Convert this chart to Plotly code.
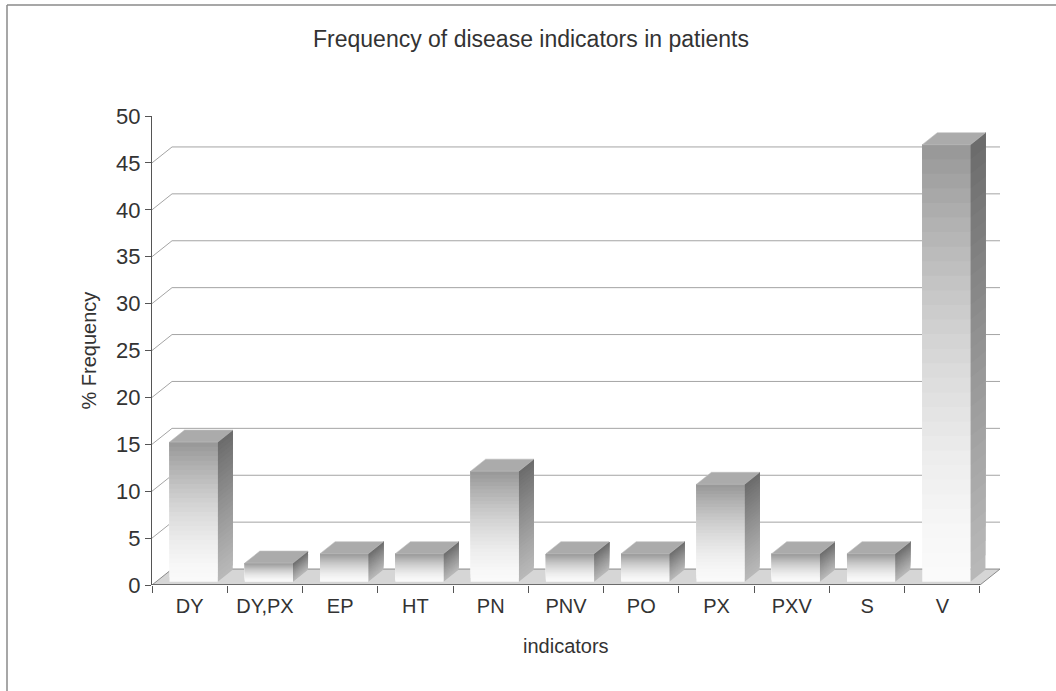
import numpy as np
import plotly.graph_objects as go

# ---------------- data ----------------
categories = ["DY", "DY,PX", "EP", "HT", "PN", "PNV", "PO", "PX", "PXV", "S", "V"]
values = [14.9, 2.0, 3.0, 3.0, 11.8, 3.0, 3.0, 10.4, 3.0, 3.0, 46.6]
y_ticks = [0, 5, 10, 15, 20, 25, 30, 35, 40, 45, 50]
title_text = "Frequency of disease indicators in patients"
x_title = "indicators"
y_title = "% Frequency"

# ---------------- 3-D look geometry (styling) ----------------
DEPTH_X, DEPTH_Y = 0.266, 1.7      # back-wall offset in axis units
FRONT, BACK = 0.2, 0.95            # bar depth span (fraction of depth)
BAR_W = 0.64
N = 30
FONT = "Liberation Sans, Arial, sans-serif"
TXT = "#333333"

FX0, FY0 = FRONT * DEPTH_X, FRONT * DEPTH_Y
DDX, DDY = (BACK - FRONT) * DEPTH_X, (BACK - FRONT) * DEPTH_Y
n = len(categories)
xmin, xmax = -0.5, n - 0.5

def grey(g):
    g = int(round(g))
    return f"rgb({g},{g},{g})"

fig = go.Figure()

# floor
fig.add_trace(go.Scatter(
    x=[xmin, xmax, xmax + DEPTH_X, xmin + DEPTH_X, xmin],
    y=[0, 0, DEPTH_Y, DEPTH_Y, 0],
    fill="toself", fillcolor="#d6d6d6", mode="lines",
    line=dict(color="#8a8a8a", width=1), hoverinfo="skip", showlegend=False))

# back wall gridlines + left wall diagonals
gx, gy = [], []
for t in y_ticks[1:-1]:
    gx += [xmin, xmin + DEPTH_X, xmax + DEPTH_X, None]
    gy += [t, t + DEPTH_Y, t + DEPTH_Y, None]
fig.add_trace(go.Scatter(x=gx, y=gy, mode="lines",
                         line=dict(color="#a4a4a4", width=1),
                         hoverinfo="skip", showlegend=False))

# front edge of floor (x axis line)
fig.add_trace(go.Scatter(x=[xmin, xmax], y=[0, 0], mode="lines",
                         line=dict(color="#555555", width=1.3),
                         hoverinfo="skip", showlegend=False))

xc = np.arange(n) + FX0
vals = np.array(values, dtype=float)

# side faces and front faces (gradient, drawn bottom-up, each slice reaching the top)
for j in range(N):
    t = (j + 0.5) / N
    side_col = grey(185 - 78 * t ** 1.1)
    front_col = grey(250 - 100 * t ** 1.6)
    sx, sy, fx, fy = [], [], [], []
    for i in range(n):
        xl = xc[i] - BAR_W / 2
        xr = xc[i] + BAR_W / 2
        y0 = FY0 + vals[i] * j / N
        y1 = FY0 + vals[i]
        sx += [xr, xr + DDX, xr + DDX, xr, xr, None]
        sy += [y0, y0 + DDY, y1 + DDY, y1, y0, None]
        fx += [xl, xr, xr, xl, xl, None]
        fy += [y0, y0, y1, y1, y0, None]
    fig.add_trace(go.Scatter(x=sx, y=sy, fill="toself", fillcolor=side_col,
                             mode="lines", line=dict(width=0, color=side_col),
                             hoverinfo="skip", showlegend=False))
    fig.add_trace(go.Scatter(x=fx, y=fy, fill="toself", fillcolor=front_col,
                             mode="lines", line=dict(width=0, color=front_col),
                             hoverinfo="skip", showlegend=False))

# top faces
tx, ty = [], []
for i in range(n):
    xl = xc[i] - BAR_W / 2
    xr = xc[i] + BAR_W / 2
    top = FY0 + vals[i]
    tx += [xl, xr, xr + DDX, xl + DDX, xl, None]
    ty += [top, top, top + DDY, top + DDY, top, None]
fig.add_trace(go.Scatter(x=tx, y=ty, fill="toself", fillcolor="#ababab",
                         mode="lines", line=dict(width=0.6, color="#bdbdbd"),
                         hoverinfo="skip", showlegend=False))

fig.update_layout(
    width=1056, height=691,
    margin=dict(l=152, r=56, t=116, b=106),
    paper_bgcolor="white", plot_bgcolor="white",
    showlegend=False,
    font=dict(family=FONT, color=TXT),
    title=dict(text=title_text, x=531 / 1056, xanchor="center",
               y=1 - 39 / 691, yanchor="middle", xref="container", yref="container",
               font=dict(size=23, family=FONT, color=TXT)),
    xaxis=dict(type="linear", range=[xmin, xmax + DEPTH_X],
               tickmode="array", tickvals=list(range(n)), ticktext=categories,
               ticks="", showgrid=False, zeroline=False, showline=False,
               tickfont=dict(size=20, family=FONT, color=TXT),
               ticklabelstandoff=7,
               minor=dict(tickmode="array", tickvals=[k - 0.5 for k in range(n + 1)],
                          ticks="outside", ticklen=7, tickcolor="#555555",
                          tickwidth=1, showgrid=False)),
    yaxis=dict(range=[0, 50], tickmode="array", tickvals=y_ticks,
               ticks="outside", ticklen=6, tickcolor="#555555",
               showgrid=False, zeroline=False, showline=True,
               linecolor="#555555", linewidth=1.2,
               tickfont=dict(size=22, family=FONT, color=TXT)),
    annotations=[
        dict(text=x_title, x=(xmin + xmax) / 2, xref="x", y=-(646 - 585) / 469,
             yref="paper", showarrow=False, xanchor="center", yanchor="middle",
             font=dict(size=20, family=FONT, color=TXT)),
        dict(text=y_title, x=-(152 - 88) / 848, xref="paper", y=0.5, yref="paper",
             textangle=-90, showarrow=False, xanchor="center", yanchor="middle",
             font=dict(size=20, family=FONT, color=TXT)),
    ],
    shapes=[
        dict(type="line", xref="paper", yref="paper",
             x0=-(152 - 7) / 848, x1=(1056 - 152) / 848,
             y0=(585 - 5) / 469, y1=(585 - 5) / 469,
             line=dict(color="#8a8a8a", width=1.5)),
        dict(type="line", xref="paper", yref="paper",
             x0=-(152 - 7) / 848, x1=-(152 - 7) / 848,
             y0=(585 - 5) / 469, y1=-(691 - 585) / 469,
             line=dict(color="#8a8a8a", width=1.5)),
    ],
)

fig.write_html("out.html")
